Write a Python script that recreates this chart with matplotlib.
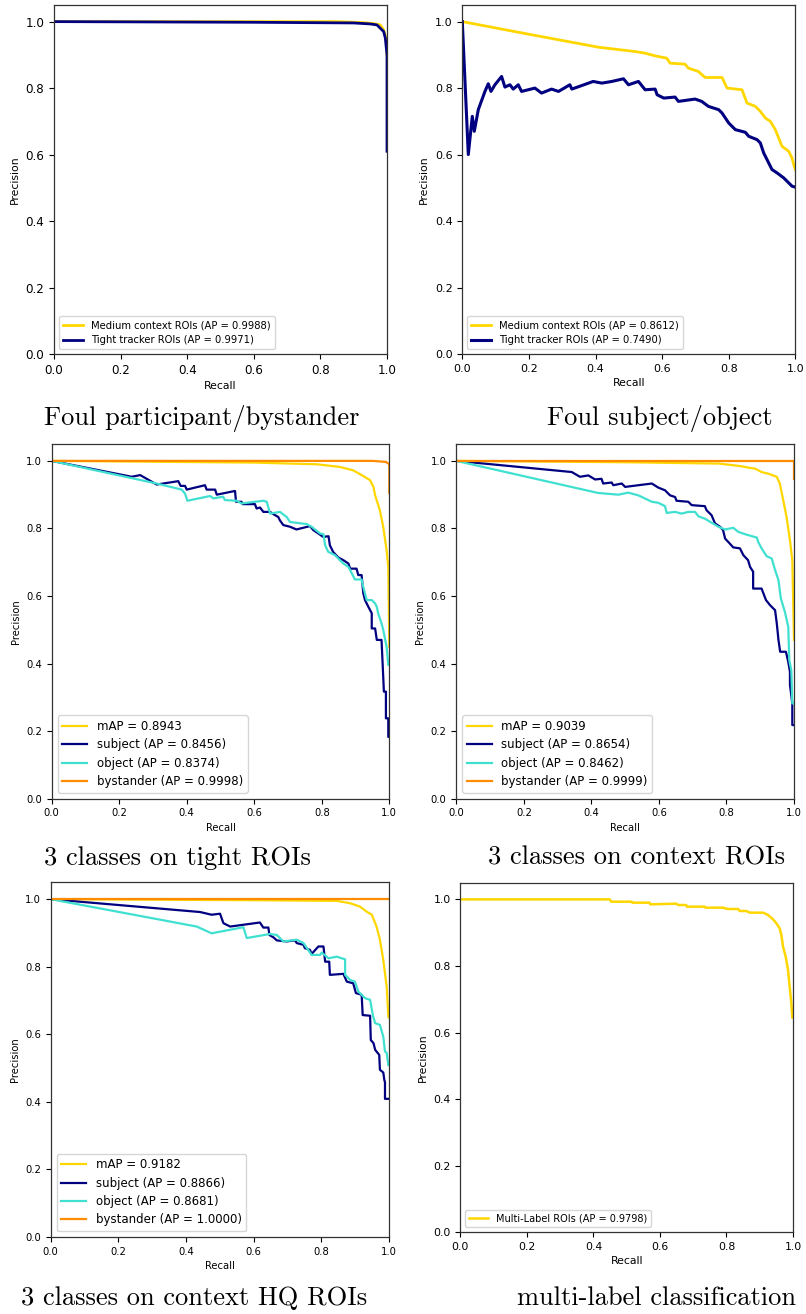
import matplotlib
matplotlib.use("Agg")
import matplotlib.pyplot as plt

GOLD = "#FFD700"
NAVY = "#000080"
TURQ = "#40E0D0"
ORANGE = "#FF8C00"

# ---------------- Panel 1: Foul participant/bystander ----------------
p1_medium_r = [0.0, 0.85, 0.93, 0.96, 0.98, 0.99, 0.997, 1.0]
p1_medium_p = [1.0, 1.0, 0.997, 0.994, 0.99, 0.975, 0.95, 0.90]
p1_tight_r = [0.0, 0.6, 0.9, 0.95, 0.97, 0.98, 0.99, 0.995, 1.0, 1.0]
p1_tight_p = [1.0, 0.998, 0.996, 0.993, 0.99, 0.98, 0.97, 0.95, 0.90, 0.61]

# ---------------- Panel 2: Foul subject/object ----------------
p2_medium_r = [0.0, 0.2, 0.409, 0.519, 0.549, 0.579, 0.614, 0.624, 0.669, 0.679, 0.709,
               0.729, 0.78, 0.795, 0.84, 0.855, 0.88, 0.895, 0.91, 0.925, 0.94, 0.95,
               0.96, 0.98, 0.99, 0.998, 1.0]
p2_medium_p = [1.0, 0.962, 0.923, 0.91, 0.905, 0.897, 0.89, 0.875, 0.872, 0.86, 0.85,
               0.832, 0.832, 0.80, 0.795, 0.755, 0.745, 0.73, 0.71, 0.70, 0.675, 0.65,
               0.625, 0.61, 0.59, 0.56, 0.555]
p2_tight_r = [0.0, 0.018, 0.03, 0.036, 0.048, 0.068, 0.078, 0.086, 0.098, 0.118, 0.128,
              0.143, 0.153, 0.168, 0.178, 0.218, 0.238, 0.268, 0.289, 0.323, 0.329, 0.393,
              0.419, 0.449, 0.484, 0.499, 0.529, 0.549, 0.579, 0.585, 0.605, 0.639, 0.649,
              0.699, 0.719, 0.739, 0.77, 0.78, 0.80, 0.82, 0.85, 0.86, 0.885, 0.895, 0.905,
              0.92, 0.93, 0.945, 0.965, 0.98, 0.99, 1.0]
p2_tight_p = [1.0, 0.60, 0.715, 0.67, 0.735, 0.79, 0.813, 0.79, 0.81, 0.835, 0.803,
              0.81, 0.797, 0.81, 0.79, 0.80, 0.785, 0.797, 0.79, 0.81, 0.797, 0.82,
              0.815, 0.82, 0.828, 0.81, 0.82, 0.795, 0.797, 0.78, 0.77, 0.773, 0.76,
              0.767, 0.76, 0.745, 0.735, 0.725, 0.695, 0.675, 0.667, 0.655, 0.645, 0.635, 0.605,
              0.575, 0.555, 0.545, 0.53, 0.515, 0.505, 0.502]

# ---------------- Panel 3: 3 classes on tight ROIs ----------------
p3_map_r = [0.0, 0.6, 0.785, 0.854, 0.893, 0.918, 0.943, 0.953, 0.958, 0.972, 0.982, 0.992, 0.997, 1.0]
p3_map_p = [1.0, 0.995, 0.99, 0.982, 0.972, 0.958, 0.943, 0.923, 0.898, 0.854, 0.805, 0.736, 0.686, 0.45]
p3_subj_r = [0.0, 0.237, 0.262, 0.311, 0.375, 0.382, 0.395, 0.40, 0.454, 0.459, 0.484, 0.489,
             0.543, 0.546, 0.562, 0.566, 0.602, 0.607, 0.617, 0.627, 0.647, 0.657, 0.671,
             0.676, 0.686, 0.706, 0.725, 0.765, 0.775, 0.79, 0.804, 0.82, 0.824, 0.834,
             0.849, 0.864, 0.879, 0.884, 0.903, 0.908, 0.918, 0.923, 0.928, 0.938, 0.948,
             0.948, 0.958, 0.963, 0.977, 0.984, 0.99, 0.99, 0.997, 0.997, 1.0]
p3_subj_p = [1.0, 0.953, 0.958, 0.93, 0.94, 0.926, 0.926, 0.915, 0.928, 0.915, 0.915, 0.90,
             0.911, 0.879, 0.879, 0.872, 0.872, 0.859, 0.862, 0.849, 0.849, 0.842, 0.834,
             0.824, 0.81, 0.805, 0.797, 0.807, 0.795, 0.785, 0.775, 0.777, 0.75, 0.73,
             0.714, 0.706, 0.696, 0.681, 0.681, 0.662, 0.662, 0.608, 0.588, 0.568, 0.549,
             0.504, 0.504, 0.47, 0.47, 0.317, 0.317, 0.238, 0.238, 0.183, 0.183]
p3_obj_r = [0.0, 0.311, 0.385, 0.395, 0.402, 0.469, 0.479, 0.508, 0.513, 0.548, 0.562, 0.627,
            0.637, 0.647, 0.676, 0.696, 0.706, 0.755, 0.77, 0.795, 0.805, 0.81, 0.819, 0.839,
            0.864, 0.879, 0.889, 0.898, 0.918, 0.923, 0.933, 0.948, 0.958, 0.963, 0.967,
            0.977, 0.982, 0.992, 0.997, 1.0]
p3_obj_p = [1.0, 0.933, 0.915, 0.903, 0.882, 0.896, 0.889, 0.894, 0.884, 0.882, 0.874, 0.882,
            0.879, 0.844, 0.849, 0.834, 0.819, 0.813, 0.805, 0.785, 0.783, 0.75, 0.731, 0.721,
            0.696, 0.686, 0.667, 0.649, 0.649, 0.627, 0.588, 0.588, 0.578, 0.568, 0.549,
            0.519, 0.50, 0.45, 0.396, 0.396]
p3_byst_r = [0.0, 0.95, 0.99, 1.0, 1.0]
p3_byst_p = [1.0, 1.0, 0.997, 0.99, 0.905]

# ---------------- Panel 4: 3 classes on context ROIs ----------------
p4_map_r = [0.0, 0.5, 0.78, 0.845, 0.865, 0.885, 0.904, 0.924, 0.949, 0.958, 0.968, 0.978, 0.988, 0.995, 1.0]
p4_map_p = [1.0, 0.996, 0.992, 0.984, 0.98, 0.977, 0.967, 0.962, 0.953, 0.933, 0.884, 0.834, 0.765, 0.706, 0.47]
p4_subj_r = [0.0, 0.342, 0.366, 0.391, 0.411, 0.43, 0.435, 0.46, 0.465, 0.49, 0.50, 0.579, 0.598,
             0.618, 0.633, 0.648, 0.652, 0.687, 0.697, 0.736, 0.741, 0.756, 0.766, 0.781, 0.79,
             0.796, 0.81, 0.82, 0.84, 0.85, 0.864, 0.87, 0.879, 0.879, 0.904, 0.917, 0.929,
             0.944, 0.949, 0.954, 0.959, 0.976, 0.983, 0.988, 0.988, 0.995, 0.995, 1.0]
p4_subj_p = [1.0, 0.967, 0.953, 0.957, 0.945, 0.947, 0.933, 0.936, 0.928, 0.933, 0.923, 0.933,
             0.921, 0.913, 0.898, 0.893, 0.882, 0.879, 0.869, 0.866, 0.854, 0.839, 0.815, 0.805,
             0.795, 0.77, 0.755, 0.744, 0.741, 0.721, 0.706, 0.686, 0.672, 0.622, 0.622, 0.588,
             0.573, 0.558, 0.519, 0.47, 0.435, 0.435, 0.405, 0.376, 0.337, 0.282, 0.218, 0.218]
p4_obj_r = [0.0, 0.42, 0.48, 0.509, 0.539, 0.579, 0.598, 0.618, 0.623, 0.648, 0.667, 0.687,
            0.707, 0.717, 0.736, 0.756, 0.776, 0.796, 0.82, 0.835, 0.855, 0.89, 0.894, 0.904,
            0.919, 0.934, 0.944, 0.954, 0.961, 0.973, 0.983, 0.986, 0.992, 0.995, 1.0]
p4_obj_p = [1.0, 0.905, 0.90, 0.906, 0.898, 0.879, 0.876, 0.866, 0.846, 0.849, 0.844, 0.849,
            0.849, 0.836, 0.829, 0.817, 0.805, 0.797, 0.802, 0.79, 0.783, 0.773, 0.76, 0.741,
            0.718, 0.711, 0.677, 0.647, 0.593, 0.553, 0.509, 0.41, 0.38, 0.282, 0.282]
p4_byst_r = [0.0, 0.99, 1.0, 1.0]
p4_byst_p = [1.0, 1.0, 1.0, 0.945]

# ---------------- Panel 5: 3 classes on context HQ ROIs ----------------
p5_map_r = [0.0, 0.6, 0.846, 0.886, 0.915, 0.935, 0.95, 0.964, 0.974, 0.984, 0.994, 0.999, 1.0]
p5_map_p = [1.0, 0.997, 0.995, 0.988, 0.978, 0.963, 0.954, 0.919, 0.88, 0.82, 0.741, 0.653, 0.65]
p5_subj_r = [0.0, 0.442, 0.476, 0.501, 0.511, 0.531, 0.619, 0.629, 0.644, 0.647, 0.659, 0.669,
             0.698, 0.723, 0.728, 0.748, 0.752, 0.767, 0.772, 0.792, 0.807, 0.812, 0.824, 0.826,
             0.866, 0.876, 0.895, 0.903, 0.92, 0.923, 0.945, 0.947, 0.955, 0.96, 0.972, 0.974,
             0.984, 0.987, 0.989, 0.989, 1.0]
p5_subj_p = [1.0, 0.962, 0.954, 0.957, 0.929, 0.919, 0.931, 0.916, 0.916, 0.894, 0.887, 0.878,
             0.875, 0.878, 0.870, 0.865, 0.855, 0.85, 0.838, 0.86, 0.86, 0.815, 0.815, 0.776,
             0.779, 0.756, 0.751, 0.722, 0.717, 0.657, 0.655, 0.583, 0.574, 0.554, 0.539, 0.495,
             0.487, 0.465, 0.458, 0.409, 0.409]
p5_obj_r = [0.0, 0.432, 0.476, 0.57, 0.58, 0.649, 0.669, 0.688, 0.728, 0.748, 0.772, 0.797,
            0.802, 0.822, 0.846, 0.871, 0.871, 0.886, 0.90, 0.91, 0.93, 0.945, 0.953, 0.96,
            0.974, 0.984, 0.989, 0.994, 0.999]
p5_obj_p = [1.0, 0.919, 0.899, 0.917, 0.885, 0.897, 0.894, 0.875, 0.88, 0.87, 0.835, 0.835,
            0.842, 0.825, 0.83, 0.822, 0.776, 0.761, 0.756, 0.727, 0.707, 0.702, 0.657, 0.633,
            0.628, 0.593, 0.549, 0.545, 0.509]
p5_byst_r = [0.0, 1.0]
p5_byst_p = [1.0, 1.0]

# ---------------- Panel 6: multi-label classification ----------------
p6_ml_r = [0.0, 0.449, 0.454, 0.515, 0.517, 0.569, 0.571, 0.649, 0.655, 0.679, 0.681, 0.735,
           0.737, 0.792, 0.795, 0.805, 0.835, 0.84, 0.86, 0.87, 0.91, 0.925, 0.94, 0.95,
           0.96, 0.965, 0.97, 0.978, 0.985, 0.99, 0.995, 0.998]
p6_ml_p = [1.0, 1.0, 0.993, 0.993, 0.99, 0.99, 0.985, 0.987, 0.983, 0.983, 0.978, 0.978,
           0.975, 0.975, 0.973, 0.971, 0.971, 0.965, 0.965, 0.96, 0.96, 0.953, 0.94, 0.928,
           0.913, 0.893, 0.858, 0.828, 0.788, 0.738, 0.688, 0.645]

# ---------------- Labels ----------------
captions = ["Foul participant/bystander", "Foul subject/object",
            "3 classes on tight ROIs", "3 classes on context ROIs",
            "3 classes on context HQ ROIs", "multi-label classification"]

W, H = 806, 1314
fig = plt.figure(figsize=(W / 100, H / 100), dpi=100)


def make_axes(left, right, top, bottom, tick_fs, label_fs):
    ax = fig.add_axes([left / W, (H - bottom) / H, (right - left) / W, (bottom - top) / H])
    ax.set_xlim(0, 1.0)
    ax.set_ylim(0, 1.05)
    ax.set_xticks([0.0, 0.2, 0.4, 0.6, 0.8, 1.0])
    ax.set_yticks([0.0, 0.2, 0.4, 0.6, 0.8, 1.0])
    ax.tick_params(labelsize=tick_fs, length=3.5, width=0.8)
    ax.set_xlabel("Recall", fontsize=label_fs, labelpad=3)
    ax.set_ylabel("Precision", fontsize=label_fs, labelpad=4)
    for s in ax.spines.values():
        s.set_linewidth(0.9)
        s.set_color("#333333")
    return ax


# Panel 1
ax1 = make_axes(54, 387, 5, 354, 8.6, 7.8)
ax1.plot(p1_medium_r, p1_medium_p, color=GOLD, lw=2.0, label="Medium context ROIs (AP = 0.9988)")
ax1.plot(p1_tight_r, p1_tight_p, color=NAVY, lw=2.0, label="Tight tracker ROIs (AP = 0.9971)")
ax1.legend(loc="lower left", fontsize=7.2, handlelength=2.0, borderaxespad=0.5)

# Panel 2
ax2 = make_axes(462.3, 795.3, 5, 354, 8.0, 7.8)
ax2.plot(p2_medium_r, p2_medium_p, color=GOLD, lw=2.0, label="Medium context ROIs (AP = 0.8612)")
ax2.plot(p2_tight_r, p2_tight_p, color=NAVY, lw=2.2, label="Tight tracker ROIs (AP = 0.7490)")
ax2.legend(loc="lower left", fontsize=7.2, handlelength=2.0, borderaxespad=0.5)

LEG3 = dict(loc="lower left", fontsize=8.5, handlelength=2.1, labelspacing=0.45, borderaxespad=0.5)

# Panel 3
ax3 = make_axes(51.7, 389.3, 444, 798.7, 7.2, 7.2)
ax3.plot(p3_map_r, p3_map_p, color=GOLD, lw=1.6, label="mAP = 0.8943")
ax3.plot(p3_subj_r, p3_subj_p, color=NAVY, lw=1.6, label="subject (AP = 0.8456)")
ax3.plot(p3_obj_r, p3_obj_p, color=TURQ, lw=1.6, label="object (AP = 0.8374)")
ax3.plot(p3_byst_r, p3_byst_p, color=ORANGE, lw=1.6, label="bystander (AP = 0.9998)")
ax3.legend(**LEG3)

# Panel 4
ax4 = make_axes(456.3, 794, 444, 798.7, 7.2, 7.2)
ax4.plot(p4_map_r, p4_map_p, color=GOLD, lw=1.6, label="mAP = 0.9039")
ax4.plot(p4_subj_r, p4_subj_p, color=NAVY, lw=1.6, label="subject (AP = 0.8654)")
ax4.plot(p4_obj_r, p4_obj_p, color=TURQ, lw=1.6, label="object (AP = 0.8462)")
ax4.plot(p4_byst_r, p4_byst_p, color=ORANGE, lw=1.6, label="bystander (AP = 0.9999)")
ax4.legend(**LEG3)

# Panel 5
ax5 = make_axes(50.7, 388.7, 882.3, 1237, 7.2, 7.2)
ax5.plot(p5_map_r, p5_map_p, color=GOLD, lw=1.6, label="mAP = 0.9182")
ax5.plot(p5_subj_r, p5_subj_p, color=NAVY, lw=1.6, label="subject (AP = 0.8866)")
ax5.plot(p5_obj_r, p5_obj_p, color=TURQ, lw=1.6, label="object (AP = 0.8681)")
ax5.plot(p5_byst_r, p5_byst_p, color=ORANGE, lw=1.6, label="bystander (AP = 1.0000)")
ax5.legend(**LEG3)

# Panel 6
ax6 = make_axes(460.3, 793, 882.7, 1232.3, 7.8, 7.8)
ax6.plot(p6_ml_r, p6_ml_p, color=GOLD, lw=1.8, label="Multi-Label ROIs (AP = 0.9798)")
ax6.legend(loc="lower left", fontsize=7.0, handlelength=2.0, borderaxespad=0.5)

# Captions (serif, Computer Modern)
cap_pos = [(44, 419), (547, 419), (44, 858), (488, 858), (21, 1298), (517, 1298)]
for text, (x, y) in zip(captions, cap_pos):
    fig.text(x / W, (H - y) / H, text, family="cmr10", fontsize=19,
             ha="left", va="center")

fig.savefig("out.png", dpi=100)
